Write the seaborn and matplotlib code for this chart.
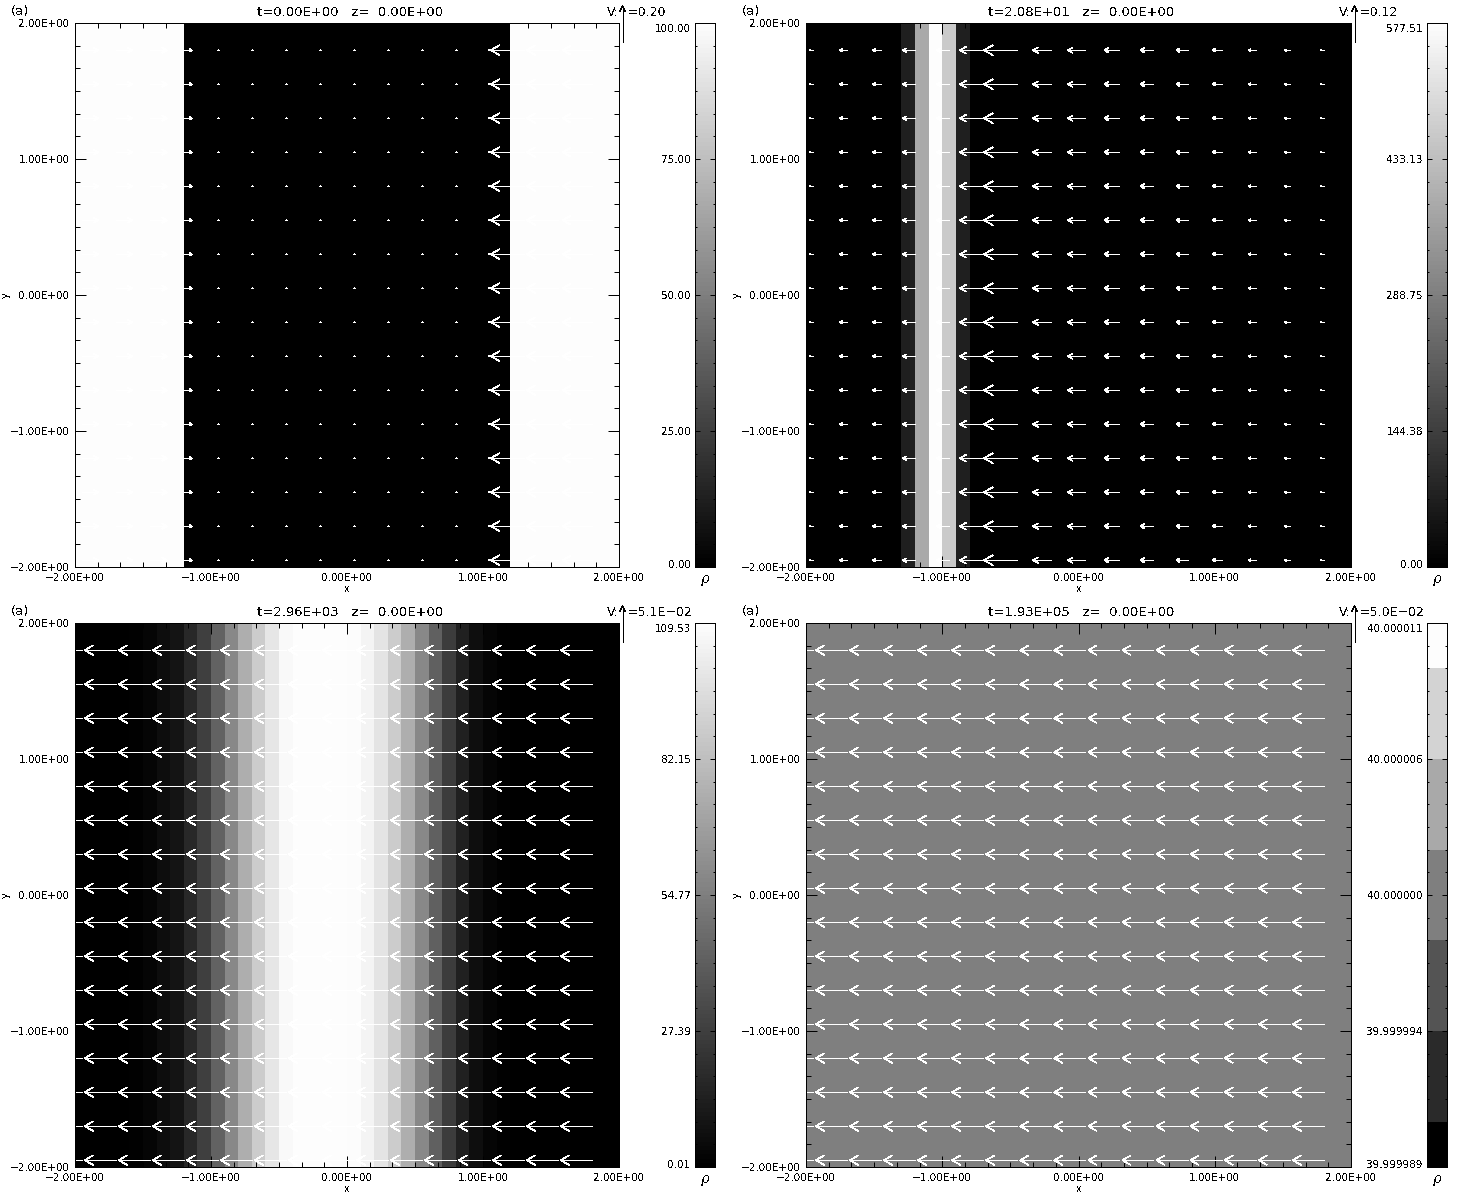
import numpy as np
import matplotlib
matplotlib.use('Agg')
import matplotlib.pyplot as plt
import seaborn as sns
from matplotlib.colors import LinearSegmentedColormap
from matplotlib.ticker import MultipleLocator
from matplotlib.transforms import Affine2D

sns.set_style("white")

W, H = 1460, 1200

# density per x cell (40 cells across -2..2)
rho_a = [100.0]*8 + [0.0]*24 + [100.0]*8
rho_b = [0.0]*7 + [72.0, 385.0, 577.51, 462.0, 72.0] + [0.0]*28
rho_c = [0.01, 0.01, 0.01, 0.01, 0.5, 2.2, 5.6, 8.7, 17.3, 27.7,
         42.4, 58.9, 74.9, 88.3, 99.6, 107.4, 109.53, 109.53, 109.53, 109.53,
         109.1, 105.6, 98.7, 88.3, 75.3, 58.9, 41.6, 26.0, 13.9, 6.1,
         2.2, 0.5, 0.01, 0.01, 0.01, 0.01, 0.01, 0.01, 0.01, 0.01]
rho_d = [40.0]*40

# x velocity per column of the vector grid
vel_a = [0.089, 0.089, 0.094, 0.044, 0.004, 0.004, 0.004, 0.004,
         0.004, 0.004, 0.004, 0.004, -0.004, -0.183, -0.172, -0.161]
vel_b = [-0.010, -0.023, -0.027, -0.040, -0.040, -0.077, -0.110, -0.060,
         -0.057, -0.050, -0.043, -0.037, -0.030, -0.023, -0.017, -0.010]
vel_c = [-0.044]*16
vel_d = [-0.043]*16

grid = [-1.95 + 0.25*k for k in range(16)]

times = ['t=0.00E+00', 't=2.08E+01', 't=2.96E+03', 't=1.93E+05']
vel_refs = [0.20, 0.12, 0.051, 0.050]
vel_ref_labels = ['=0.20', '=0.12', '=5.1E\u221202', '=5.0E\u221202']
cbar_labels = [['0.00', '25.00', '50.00', '75.00', '100.00'],
               ['0.00', '144.38', '288.75', '433.13', '577.51'],
               ['0.01', '27.39', '54.77', '82.15', '109.53'],
               ['39.999989', '39.999994', '40.000000', '40.000006', '40.000011']]
vmins = [0.0, 0.0, 0.01, 39.999989]
vmaxs = [100.0, 577.51, 109.53, 40.000011]
d_band_fracs = [1, 5/6, 5/6, 4/6, 4/6, 3/6, 3/6, 2/6, 2/6, 1/6, 1/6, 0]

field_ticks = [-2, -1, 0, 1, 2]
field_labels = ['\u22122.00E+00', '\u22121.00E+00', '0.00E+00', '1.00E+00', '2.00E+00']

gray = LinearSegmentedColormap.from_list('g', ['#000000', '#fdfdfd'], N=256)

plt.rcParams['font.family'] = ['DejaVu Sans']
plt.rcParams['text.color'] = 'k'
plt.rcParams['axes.labelcolor'] = 'k'
plt.rcParams['axes.edgecolor'] = 'k'
plt.rcParams['xtick.color'] = 'k'
plt.rcParams['ytick.color'] = 'k'
plt.rcParams['text.antialiased'] = False
fig = plt.figure(figsize=(W/100, H/100), dpi=100)


def px_axes(x0, y0, w, h, **kw):
    return fig.add_axes([x0/W, 1-(y0+h)/H, w/W, h/H], **kw)


def draw_arrows(ax, u, ref):
    # open headed IDL style arrows, tail on the grid point
    for y in grid:
        for x, v in zip(grid, u):
            L = v/ref*36/136
            tip = x+L
            back, side = 0.26*L, 0.15*abs(L)
            ax.plot([x, tip], [y, y], color='white', lw=0.6, antialiased=False)
            ax.plot([tip-back, tip, tip-back], [y+side, y, y-side],
                    color='white', lw=0.5, antialiased=False)


def panel(x0, y0, w, rho, u, i):
    heat = px_axes(x0, y0, w, 544)
    sns.heatmap(np.array(rho)[None, :], ax=heat, cmap=gray, vmin=vmins[i], vmax=vmaxs[i],
                cbar=False, xticklabels=False, yticklabels=False)

    ax = px_axes(x0, y0, w, 544, facecolor='none')
    ax.set_xlim(-2, 2)
    ax.set_ylim(-2, 2)
    draw_arrows(ax, u, vel_refs[i])
    ax.set_xticks(field_ticks, field_labels, fontsize=7.5)
    ax.set_yticks(field_ticks, field_labels, fontsize=7.5)
    ax.xaxis.set_minor_locator(MultipleLocator(1/6))
    ax.yaxis.set_minor_locator(MultipleLocator(1/6))
    ax.tick_params(which='major', direction='in', length=8, width=0.72, top=True, right=True,
                   bottom=True, left=True, pad=4)
    ax.tick_params(which='minor', direction='in', length=3.6, width=0.72, top=True, right=True,
                   bottom=True, left=True)
    for s in ax.spines.values():
        s.set_linewidth(0.72)
    ax.set_xlabel('x', fontsize=7, labelpad=1)
    ax.set_ylabel('y', fontsize=7, labelpad=-1)

    # header texts
    cx = x0 + w/2 + 3
    fig.text(cx/W, 1-(y0-10)/H, times[i] + '   z=  0.00E+00', ha='center', va='center', fontsize=9.5)
    fig.text((x0-64)/W, 1-(y0-11)/H, '(a)', ha='left', va='center', fontsize=9.5)
    rx = x0 + w + 3.5
    fig.text((rx-4)/W, 1-(y0-11)/H, 'V:', ha='right', va='center', fontsize=9)
    fig.text((rx+5)/W, 1-(y0-11)/H, vel_ref_labels[i], ha='left', va='center', fontsize=9)

    # reference arrow, 36 px long
    top, bot = y0-17, y0+19
    fig.add_artist(plt.Line2D([rx/W, rx/W], [1-top/H, 1-bot/H], color='k', lw=0.72, antialiased=False))
    fig.add_artist(plt.Line2D([(rx-2.5)/W, rx/W, (rx+2.5)/W], [1-(top+5)/H, 1-top/H, 1-(top+5)/H],
                              color='k', lw=0.6, antialiased=False))

    # colour bar
    cb_x = x0 + w + 76
    if i == 3:
        vals = [vmins[i] + f*(vmaxs[i]-vmins[i]) for f in d_band_fracs]
    else:
        vals = np.linspace(vmaxs[i], vmins[i], 128)
    cb = px_axes(cb_x, y0, 20, 544)
    sns.heatmap(np.array(vals)[:, None], ax=cb, cmap=gray, vmin=vmins[i], vmax=vmaxs[i],
                cbar=False, xticklabels=False, yticklabels=False)
    cax = px_axes(cb_x, y0, 20, 544, facecolor='none')
    cax.set_xlim(0, 1)
    cax.set_ylim(0, 4)
    cax.set_xticks([])
    cax.set_yticks(range(5), cbar_labels[i], fontsize=7.5)
    cax.yaxis.set_minor_locator(MultipleLocator(1/6))
    cax.tick_params(which='major', axis='y', direction='in', length=3.6, width=0.72, left=True, right=True, pad=3)
    cax.tick_params(which='minor', axis='y', direction='in', length=1.6, width=0.72, left=True, right=True)
    for s in cax.spines.values():
        s.set_linewidth(0.72)
    ticklabels = cax.get_yticklabels()
    ticklabels[0].set_transform(ticklabels[0].get_transform() + Affine2D().translate(0, 3))
    ticklabels[-1].set_transform(ticklabels[-1].get_transform() + Affine2D().translate(0, -5))
    fig.text((cb_x+10)/W, 1-(y0+558)/H, r'$\rho$', ha='center', va='center', fontsize=10)


panel(75, 23, 544, rho_a, vel_a, 0)
panel(806, 23, 545, rho_b, vel_b, 1)
panel(75, 623, 544, rho_c, vel_c, 2)
panel(806, 623, 545, rho_d, vel_d, 3)

fig.savefig('out.png', dpi=100)
